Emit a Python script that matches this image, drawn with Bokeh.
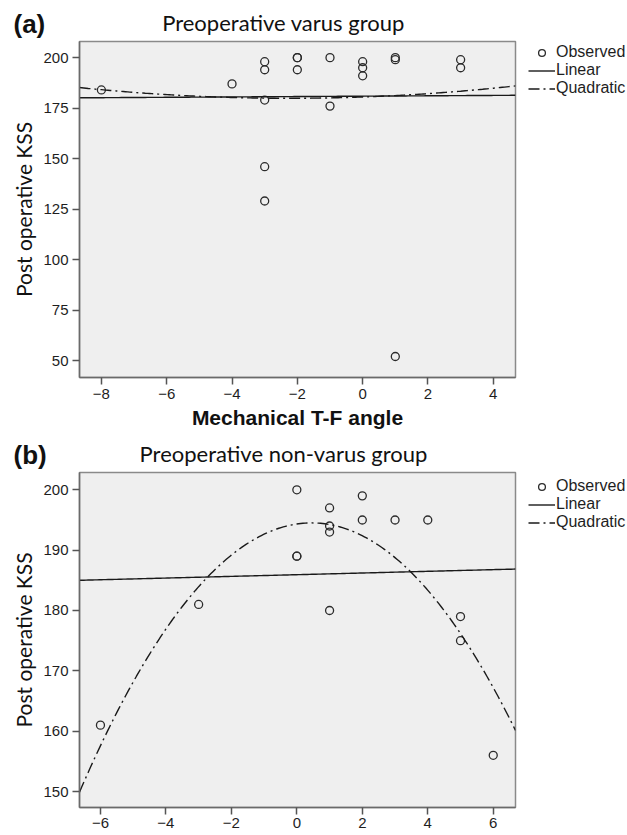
import numpy as np
from bokeh.plotting import figure
from bokeh.models import Range1d, FixedTicker, Label, Legend, LegendItem
from bokeh.layouts import column
from bokeh.embed import file_html
from bokeh.resources import INLINE

# ---------------- data ----------------
a_angle = [-8, -4, -3, -3, -3, -3, -3, -2, -2, -2, -1, -1, 0, 0, 0, 1, 1, 1, 3, 3]
a_kss = [184, 187, 198, 194, 179, 146, 129, 200, 200, 194, 200, 176, 198, 195, 191, 200, 199, 52, 199, 195]
a_xticks = [-8, -6, -4, -2, 0, 2, 4]
a_yticks = [50, 75, 100, 125, 150, 175, 200]

b_angle = [-6, -3, 0, 0, 0, 1, 1, 1, 1, 2, 2, 3, 4, 5, 5, 6]
b_kss = [161, 181, 200, 189, 189, 197, 194, 193, 180, 199, 195, 195, 195, 179, 175, 156]
b_xticks = [-6, -4, -2, 0, 2, 4, 6]
b_yticks = [150, 160, 170, 180, 190, 200]

a_title = "Preoperative varus group"
b_title = "Preoperative non-varus group"
y_title = "Post operative KSS"
x_title = "Mechanical T-F angle"
legend_labels = ["Observed", "Linear", "Quadratic"]

INK = "#1e1e1e"
FRAME = "#8a8a8a"
BG = "#efefef"
W = 627


def header(tag, title, height, title_y, tag_y):
    h = figure(frame_width=W, frame_height=height,
               x_range=Range1d(0, W), y_range=Range1d(0, height),
               output_backend="svg", toolbar_location=None, frame_align=False,
               x_axis_location=None, y_axis_location=None,
               min_border_left=0, min_border_right=0, min_border_top=0, min_border_bottom=0)
    h.outline_line_color = None
    h.background_fill_color = "white"
    h.xgrid.visible = False
    h.ygrid.visible = False
    h.add_layout(Label(x=283, y=title_y, x_units="screen", y_units="screen",
                       text=title, text_align="center", text_baseline="alphabetic",
                       text_font="Lato", text_font_size="22px", text_color="#111111"))
    h.add_layout(Label(x=13, y=tag_y, x_units="screen", y_units="screen",
                       text=tag, text_align="left", text_baseline="alphabetic",
                       text_font="Liberation Sans", text_font_style="bold",
                       text_font_size="26px", text_color="#111111"))
    return h


def panel(x, y, xr, yr, xticks, yticks, fheight, bottom, leg_y, xlabel, xstand):
    p = figure(frame_width=436, frame_height=fheight,
               x_range=Range1d(*xr), y_range=Range1d(*yr),
               output_backend="svg", toolbar_location=None, frame_align=False,
               min_border_left=79, min_border_right=112,
               min_border_top=1, min_border_bottom=bottom)
    p.background_fill_color = BG
    p.border_fill_color = "white"
    p.outline_line_color = FRAME
    p.outline_line_width = 1.5
    p.xgrid.visible = False
    p.ygrid.visible = False
    for ax, ticks in ((p.xaxis[0], xticks), (p.yaxis[0], yticks)):
        ax.ticker = FixedTicker(ticks=ticks)
        ax.minor_tick_line_color = None
        ax.major_tick_in = 0
        ax.major_tick_out = 7
        ax.major_tick_line_color = "#555555"
        ax.major_tick_line_width = 1.5
        ax.axis_line_color = "#6a6a6a"
        ax.axis_line_width = 1.5
        ax.major_label_text_font = "Liberation Sans"
        ax.major_label_text_font_size = "15px"
        ax.major_label_text_color = INK
    p.xaxis.major_label_standoff = xstand
    p.yaxis.major_label_standoff = 4
    p.yaxis.axis_label = y_title
    p.yaxis.axis_label_text_font = "Lato"
    p.yaxis.axis_label_text_font_size = "21px"
    p.yaxis.axis_label_text_font_style = "normal"
    p.yaxis.axis_label_text_color = "#111111"
    p.yaxis.axis_label_standoff = 4
    if xlabel:
        p.xaxis.axis_label = xlabel
        p.xaxis.axis_label_text_font = "Liberation Sans"
        p.xaxis.axis_label_text_font_size = "21px"
        p.xaxis.axis_label_text_font_style = "bold"
        p.xaxis.axis_label_text_color = "#111111"
        p.xaxis.axis_label_standoff = 4

    xs = np.array(x, dtype=float)
    ys = np.array(y, dtype=float)
    grid = np.linspace(xr[0], xr[1], 200)
    lin = np.polyval(np.polyfit(xs, ys, 1), grid)
    quad = np.polyval(np.polyfit(xs, ys, 2), grid)

    r_obs = p.scatter(xs, ys, marker="circle", size=8, fill_color=None,
                      line_color="#2b2b2b", line_width=1.3)
    r_lin = p.line(grid, lin, line_color="#1a1a1a", line_width=1.4)
    r_quad = p.line(grid, quad, line_color="#1a1a1a", line_width=1.4,
                    line_dash="11 4 2 4")

    leg = Legend(items=[LegendItem(label=legend_labels[0], renderers=[r_obs]),
                        LegendItem(label=legend_labels[1], renderers=[r_lin]),
                        LegendItem(label=legend_labels[2], renderers=[r_quad])],
                 location=(13, leg_y), padding=0, margin=0, spacing=0,
                 glyph_width=27, glyph_height=17, label_height=17,
                 label_standoff=1, border_line_alpha=0, background_fill_alpha=0,
                 label_text_font="Liberation Sans", label_text_font_size="16px",
                 label_text_color=INK)
    p.add_layout(leg, "right")
    return p


ha = header("(a)", a_title, 40, 18.5, 16.5)
pa = panel(a_angle, a_kss, (-8.67, 4.68), (41.6, 208.0), a_xticks, a_yticks,
           336, 57, 280, x_title, 4)
hb = header("(b)", b_title, 37, 18, 16.5)
pb = panel(b_angle, b_kss, (-6.64, 6.68), (147.35, 202.87), b_xticks, b_yticks,
           335, 20, 276, None, 3)

layout = column(ha, pa, hb, pb, spacing=0)
open("out.html", "w").write(file_html(layout, INLINE))
